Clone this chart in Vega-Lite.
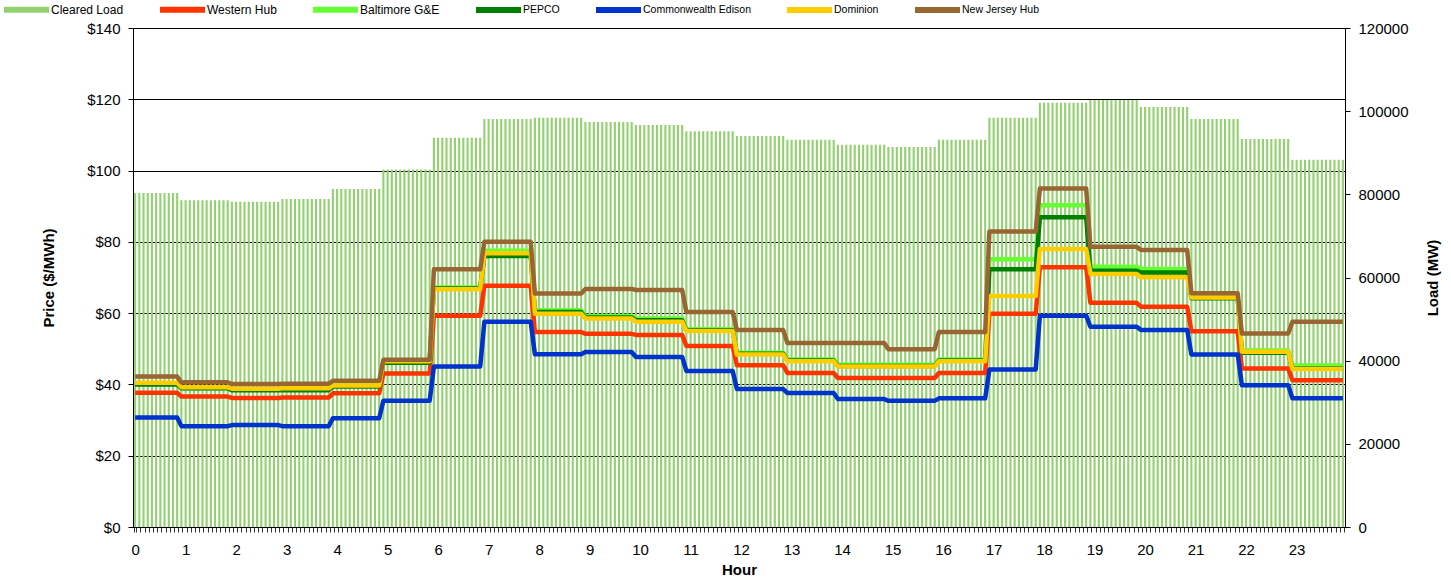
{
"$schema": "https://vega.github.io/schema/vega-lite/v6.json",
"width": 1212, "height": 499,
"autosize": {"type": "none"},
"padding": {"left": 133, "top": 28, "right": 106, "bottom": 50},
"background": "white",
"config": {
"font": "Liberation Sans",
"view": {"stroke": "#000000", "strokeWidth": 1},
"axis": {"labelFont": "Liberation Sans", "labelFontSize": 15, "labelColor": "#000000", "titleFont": "Liberation Sans", "titleFontSize": 15, "titleFontWeight": "bold", "titleColor": "#000000", "domainColor": "#000000", "tickColor": "#000000", "tickSize": 5}
},
"data": {"values": [
{"i":0,"L":80300,"W":37.7,"B":40.3,"P":40,"C":30.7,"D":40.5,"N":42.2},
{"i":1,"L":80300,"W":37.7,"B":40.3,"P":40,"C":30.7,"D":40.5,"N":42.2},
{"i":2,"L":80300,"W":37.7,"B":40.3,"P":40,"C":30.7,"D":40.5,"N":42.2},
{"i":3,"L":80300,"W":37.7,"B":40.3,"P":40,"C":30.7,"D":40.5,"N":42.2},
{"i":4,"L":80300,"W":37.7,"B":40.3,"P":40,"C":30.7,"D":40.5,"N":42.2},
{"i":5,"L":80300,"W":37.7,"B":40.3,"P":40,"C":30.7,"D":40.5,"N":42.2},
{"i":6,"L":80300,"W":37.7,"B":40.3,"P":40,"C":30.7,"D":40.5,"N":42.2},
{"i":7,"L":80300,"W":37.7,"B":40.3,"P":40,"C":30.7,"D":40.5,"N":42.2},
{"i":8,"L":80300,"W":37.7,"B":40.3,"P":40,"C":30.7,"D":40.5,"N":42.2},
{"i":9,"L":80300,"W":37.7,"B":40.3,"P":40,"C":30.7,"D":40.5,"N":42.2},
{"i":10,"L":80300,"W":37.7,"B":40.3,"P":40,"C":30.7,"D":40.5,"N":42.2},
{"i":11,"L":78600,"W":36.6,"B":39,"P":38.9,"C":28.3,"D":39.2,"N":40.6},
{"i":12,"L":78600,"W":36.6,"B":39,"P":38.9,"C":28.3,"D":39.2,"N":40.6},
{"i":13,"L":78600,"W":36.6,"B":39,"P":38.9,"C":28.3,"D":39.2,"N":40.6},
{"i":14,"L":78600,"W":36.6,"B":39,"P":38.9,"C":28.3,"D":39.2,"N":40.6},
{"i":15,"L":78600,"W":36.6,"B":39,"P":38.9,"C":28.3,"D":39.2,"N":40.6},
{"i":16,"L":78600,"W":36.6,"B":39,"P":38.9,"C":28.3,"D":39.2,"N":40.6},
{"i":17,"L":78600,"W":36.6,"B":39,"P":38.9,"C":28.3,"D":39.2,"N":40.6},
{"i":18,"L":78600,"W":36.6,"B":39,"P":38.9,"C":28.3,"D":39.2,"N":40.6},
{"i":19,"L":78600,"W":36.6,"B":39,"P":38.9,"C":28.3,"D":39.2,"N":40.6},
{"i":20,"L":78600,"W":36.6,"B":39,"P":38.9,"C":28.3,"D":39.2,"N":40.6},
{"i":21,"L":78600,"W":36.6,"B":39,"P":38.9,"C":28.3,"D":39.2,"N":40.6},
{"i":22,"L":78600,"W":36.6,"B":39,"P":38.9,"C":28.3,"D":39.2,"N":40.6},
{"i":23,"L":78200,"W":36.2,"B":38.6,"P":38.4,"C":28.6,"D":38.8,"N":40.1},
{"i":24,"L":78200,"W":36.2,"B":38.6,"P":38.4,"C":28.6,"D":38.8,"N":40.1},
{"i":25,"L":78200,"W":36.2,"B":38.6,"P":38.4,"C":28.6,"D":38.8,"N":40.1},
{"i":26,"L":78200,"W":36.2,"B":38.6,"P":38.4,"C":28.6,"D":38.8,"N":40.1},
{"i":27,"L":78200,"W":36.2,"B":38.6,"P":38.4,"C":28.6,"D":38.8,"N":40.1},
{"i":28,"L":78200,"W":36.2,"B":38.6,"P":38.4,"C":28.6,"D":38.8,"N":40.1},
{"i":29,"L":78200,"W":36.2,"B":38.6,"P":38.4,"C":28.6,"D":38.8,"N":40.1},
{"i":30,"L":78200,"W":36.2,"B":38.6,"P":38.4,"C":28.6,"D":38.8,"N":40.1},
{"i":31,"L":78200,"W":36.2,"B":38.6,"P":38.4,"C":28.6,"D":38.8,"N":40.1},
{"i":32,"L":78200,"W":36.2,"B":38.6,"P":38.4,"C":28.6,"D":38.8,"N":40.1},
{"i":33,"L":78200,"W":36.2,"B":38.6,"P":38.4,"C":28.6,"D":38.8,"N":40.1},
{"i":34,"L":78200,"W":36.2,"B":38.6,"P":38.4,"C":28.6,"D":38.8,"N":40.1},
{"i":35,"L":78900,"W":36.3,"B":38.7,"P":38.4,"C":28.3,"D":38.9,"N":40.2},
{"i":36,"L":78900,"W":36.3,"B":38.7,"P":38.4,"C":28.3,"D":38.9,"N":40.2},
{"i":37,"L":78900,"W":36.3,"B":38.7,"P":38.4,"C":28.3,"D":38.9,"N":40.2},
{"i":38,"L":78900,"W":36.3,"B":38.7,"P":38.4,"C":28.3,"D":38.9,"N":40.2},
{"i":39,"L":78900,"W":36.3,"B":38.7,"P":38.4,"C":28.3,"D":38.9,"N":40.2},
{"i":40,"L":78900,"W":36.3,"B":38.7,"P":38.4,"C":28.3,"D":38.9,"N":40.2},
{"i":41,"L":78900,"W":36.3,"B":38.7,"P":38.4,"C":28.3,"D":38.9,"N":40.2},
{"i":42,"L":78900,"W":36.3,"B":38.7,"P":38.4,"C":28.3,"D":38.9,"N":40.2},
{"i":43,"L":78900,"W":36.3,"B":38.7,"P":38.4,"C":28.3,"D":38.9,"N":40.2},
{"i":44,"L":78900,"W":36.3,"B":38.7,"P":38.4,"C":28.3,"D":38.9,"N":40.2},
{"i":45,"L":78900,"W":36.3,"B":38.7,"P":38.4,"C":28.3,"D":38.9,"N":40.2},
{"i":46,"L":78900,"W":36.3,"B":38.7,"P":38.4,"C":28.3,"D":38.9,"N":40.2},
{"i":47,"L":81300,"W":37.5,"B":39.8,"P":39.4,"C":30.5,"D":39.7,"N":41},
{"i":48,"L":81300,"W":37.5,"B":39.8,"P":39.4,"C":30.5,"D":39.7,"N":41},
{"i":49,"L":81300,"W":37.5,"B":39.8,"P":39.4,"C":30.5,"D":39.7,"N":41},
{"i":50,"L":81300,"W":37.5,"B":39.8,"P":39.4,"C":30.5,"D":39.7,"N":41},
{"i":51,"L":81300,"W":37.5,"B":39.8,"P":39.4,"C":30.5,"D":39.7,"N":41},
{"i":52,"L":81300,"W":37.5,"B":39.8,"P":39.4,"C":30.5,"D":39.7,"N":41},
{"i":53,"L":81300,"W":37.5,"B":39.8,"P":39.4,"C":30.5,"D":39.7,"N":41},
{"i":54,"L":81300,"W":37.5,"B":39.8,"P":39.4,"C":30.5,"D":39.7,"N":41},
{"i":55,"L":81300,"W":37.5,"B":39.8,"P":39.4,"C":30.5,"D":39.7,"N":41},
{"i":56,"L":81300,"W":37.5,"B":39.8,"P":39.4,"C":30.5,"D":39.7,"N":41},
{"i":57,"L":81300,"W":37.5,"B":39.8,"P":39.4,"C":30.5,"D":39.7,"N":41},
{"i":58,"L":81300,"W":37.5,"B":39.8,"P":39.4,"C":30.5,"D":39.7,"N":41},
{"i":59,"L":86000,"W":43.1,"B":46.4,"P":46.1,"C":35.4,"D":46.5,"N":46.9},
{"i":60,"L":86000,"W":43.1,"B":46.4,"P":46.1,"C":35.4,"D":46.5,"N":46.9},
{"i":61,"L":86000,"W":43.1,"B":46.4,"P":46.1,"C":35.4,"D":46.5,"N":46.9},
{"i":62,"L":86000,"W":43.1,"B":46.4,"P":46.1,"C":35.4,"D":46.5,"N":46.9},
{"i":63,"L":86000,"W":43.1,"B":46.4,"P":46.1,"C":35.4,"D":46.5,"N":46.9},
{"i":64,"L":86000,"W":43.1,"B":46.4,"P":46.1,"C":35.4,"D":46.5,"N":46.9},
{"i":65,"L":86000,"W":43.1,"B":46.4,"P":46.1,"C":35.4,"D":46.5,"N":46.9},
{"i":66,"L":86000,"W":43.1,"B":46.4,"P":46.1,"C":35.4,"D":46.5,"N":46.9},
{"i":67,"L":86000,"W":43.1,"B":46.4,"P":46.1,"C":35.4,"D":46.5,"N":46.9},
{"i":68,"L":86000,"W":43.1,"B":46.4,"P":46.1,"C":35.4,"D":46.5,"N":46.9},
{"i":69,"L":86000,"W":43.1,"B":46.4,"P":46.1,"C":35.4,"D":46.5,"N":46.9},
{"i":70,"L":86000,"W":43.1,"B":46.4,"P":46.1,"C":35.4,"D":46.5,"N":46.9},
{"i":71,"L":93600,"W":59.3,"B":67.2,"P":66.9,"C":45,"D":66.7,"N":72.3},
{"i":72,"L":93600,"W":59.3,"B":67.2,"P":66.9,"C":45,"D":66.7,"N":72.3},
{"i":73,"L":93600,"W":59.3,"B":67.2,"P":66.9,"C":45,"D":66.7,"N":72.3},
{"i":74,"L":93600,"W":59.3,"B":67.2,"P":66.9,"C":45,"D":66.7,"N":72.3},
{"i":75,"L":93600,"W":59.3,"B":67.2,"P":66.9,"C":45,"D":66.7,"N":72.3},
{"i":76,"L":93600,"W":59.3,"B":67.2,"P":66.9,"C":45,"D":66.7,"N":72.3},
{"i":77,"L":93600,"W":59.3,"B":67.2,"P":66.9,"C":45,"D":66.7,"N":72.3},
{"i":78,"L":93600,"W":59.3,"B":67.2,"P":66.9,"C":45,"D":66.7,"N":72.3},
{"i":79,"L":93600,"W":59.3,"B":67.2,"P":66.9,"C":45,"D":66.7,"N":72.3},
{"i":80,"L":93600,"W":59.3,"B":67.2,"P":66.9,"C":45,"D":66.7,"N":72.3},
{"i":81,"L":93600,"W":59.3,"B":67.2,"P":66.9,"C":45,"D":66.7,"N":72.3},
{"i":82,"L":93600,"W":59.3,"B":67.2,"P":66.9,"C":45,"D":66.7,"N":72.3},
{"i":83,"L":98100,"W":67.7,"B":77.5,"P":76,"C":57.6,"D":76.8,"N":80},
{"i":84,"L":98100,"W":67.7,"B":77.5,"P":76,"C":57.6,"D":76.8,"N":80},
{"i":85,"L":98100,"W":67.7,"B":77.5,"P":76,"C":57.6,"D":76.8,"N":80},
{"i":86,"L":98100,"W":67.7,"B":77.5,"P":76,"C":57.6,"D":76.8,"N":80},
{"i":87,"L":98100,"W":67.7,"B":77.5,"P":76,"C":57.6,"D":76.8,"N":80},
{"i":88,"L":98100,"W":67.7,"B":77.5,"P":76,"C":57.6,"D":76.8,"N":80},
{"i":89,"L":98100,"W":67.7,"B":77.5,"P":76,"C":57.6,"D":76.8,"N":80},
{"i":90,"L":98100,"W":67.7,"B":77.5,"P":76,"C":57.6,"D":76.8,"N":80},
{"i":91,"L":98100,"W":67.7,"B":77.5,"P":76,"C":57.6,"D":76.8,"N":80},
{"i":92,"L":98100,"W":67.7,"B":77.5,"P":76,"C":57.6,"D":76.8,"N":80},
{"i":93,"L":98100,"W":67.7,"B":77.5,"P":76,"C":57.6,"D":76.8,"N":80},
{"i":94,"L":98100,"W":67.7,"B":77.5,"P":76,"C":57.6,"D":76.8,"N":80},
{"i":95,"L":98400,"W":54.7,"B":60.8,"P":60.3,"C":48.5,"D":59.8,"N":65.5},
{"i":96,"L":98400,"W":54.7,"B":60.8,"P":60.3,"C":48.5,"D":59.8,"N":65.5},
{"i":97,"L":98400,"W":54.7,"B":60.8,"P":60.3,"C":48.5,"D":59.8,"N":65.5},
{"i":98,"L":98400,"W":54.7,"B":60.8,"P":60.3,"C":48.5,"D":59.8,"N":65.5},
{"i":99,"L":98400,"W":54.7,"B":60.8,"P":60.3,"C":48.5,"D":59.8,"N":65.5},
{"i":100,"L":98400,"W":54.7,"B":60.8,"P":60.3,"C":48.5,"D":59.8,"N":65.5},
{"i":101,"L":98400,"W":54.7,"B":60.8,"P":60.3,"C":48.5,"D":59.8,"N":65.5},
{"i":102,"L":98400,"W":54.7,"B":60.8,"P":60.3,"C":48.5,"D":59.8,"N":65.5},
{"i":103,"L":98400,"W":54.7,"B":60.8,"P":60.3,"C":48.5,"D":59.8,"N":65.5},
{"i":104,"L":98400,"W":54.7,"B":60.8,"P":60.3,"C":48.5,"D":59.8,"N":65.5},
{"i":105,"L":98400,"W":54.7,"B":60.8,"P":60.3,"C":48.5,"D":59.8,"N":65.5},
{"i":106,"L":98400,"W":54.7,"B":60.8,"P":60.3,"C":48.5,"D":59.8,"N":65.5},
{"i":107,"L":97400,"W":54.2,"B":59.2,"P":58.8,"C":49.1,"D":58.5,"N":66.8},
{"i":108,"L":97400,"W":54.2,"B":59.2,"P":58.8,"C":49.1,"D":58.5,"N":66.8},
{"i":109,"L":97400,"W":54.2,"B":59.2,"P":58.8,"C":49.1,"D":58.5,"N":66.8},
{"i":110,"L":97400,"W":54.2,"B":59.2,"P":58.8,"C":49.1,"D":58.5,"N":66.8},
{"i":111,"L":97400,"W":54.2,"B":59.2,"P":58.8,"C":49.1,"D":58.5,"N":66.8},
{"i":112,"L":97400,"W":54.2,"B":59.2,"P":58.8,"C":49.1,"D":58.5,"N":66.8},
{"i":113,"L":97400,"W":54.2,"B":59.2,"P":58.8,"C":49.1,"D":58.5,"N":66.8},
{"i":114,"L":97400,"W":54.2,"B":59.2,"P":58.8,"C":49.1,"D":58.5,"N":66.8},
{"i":115,"L":97400,"W":54.2,"B":59.2,"P":58.8,"C":49.1,"D":58.5,"N":66.8},
{"i":116,"L":97400,"W":54.2,"B":59.2,"P":58.8,"C":49.1,"D":58.5,"N":66.8},
{"i":117,"L":97400,"W":54.2,"B":59.2,"P":58.8,"C":49.1,"D":58.5,"N":66.8},
{"i":118,"L":97400,"W":54.2,"B":59.2,"P":58.8,"C":49.1,"D":58.5,"N":66.8},
{"i":119,"L":96700,"W":53.9,"B":58.5,"P":58,"C":47.7,"D":57.6,"N":66.5},
{"i":120,"L":96700,"W":53.9,"B":58.5,"P":58,"C":47.7,"D":57.6,"N":66.5},
{"i":121,"L":96700,"W":53.9,"B":58.5,"P":58,"C":47.7,"D":57.6,"N":66.5},
{"i":122,"L":96700,"W":53.9,"B":58.5,"P":58,"C":47.7,"D":57.6,"N":66.5},
{"i":123,"L":96700,"W":53.9,"B":58.5,"P":58,"C":47.7,"D":57.6,"N":66.5},
{"i":124,"L":96700,"W":53.9,"B":58.5,"P":58,"C":47.7,"D":57.6,"N":66.5},
{"i":125,"L":96700,"W":53.9,"B":58.5,"P":58,"C":47.7,"D":57.6,"N":66.5},
{"i":126,"L":96700,"W":53.9,"B":58.5,"P":58,"C":47.7,"D":57.6,"N":66.5},
{"i":127,"L":96700,"W":53.9,"B":58.5,"P":58,"C":47.7,"D":57.6,"N":66.5},
{"i":128,"L":96700,"W":53.9,"B":58.5,"P":58,"C":47.7,"D":57.6,"N":66.5},
{"i":129,"L":96700,"W":53.9,"B":58.5,"P":58,"C":47.7,"D":57.6,"N":66.5},
{"i":130,"L":96700,"W":53.9,"B":58.5,"P":58,"C":47.7,"D":57.6,"N":66.5},
{"i":131,"L":95200,"W":50.8,"B":55.5,"P":55.2,"C":43.8,"D":55,"N":60.3},
{"i":132,"L":95200,"W":50.8,"B":55.5,"P":55.2,"C":43.8,"D":55,"N":60.3},
{"i":133,"L":95200,"W":50.8,"B":55.5,"P":55.2,"C":43.8,"D":55,"N":60.3},
{"i":134,"L":95200,"W":50.8,"B":55.5,"P":55.2,"C":43.8,"D":55,"N":60.3},
{"i":135,"L":95200,"W":50.8,"B":55.5,"P":55.2,"C":43.8,"D":55,"N":60.3},
{"i":136,"L":95200,"W":50.8,"B":55.5,"P":55.2,"C":43.8,"D":55,"N":60.3},
{"i":137,"L":95200,"W":50.8,"B":55.5,"P":55.2,"C":43.8,"D":55,"N":60.3},
{"i":138,"L":95200,"W":50.8,"B":55.5,"P":55.2,"C":43.8,"D":55,"N":60.3},
{"i":139,"L":95200,"W":50.8,"B":55.5,"P":55.2,"C":43.8,"D":55,"N":60.3},
{"i":140,"L":95200,"W":50.8,"B":55.5,"P":55.2,"C":43.8,"D":55,"N":60.3},
{"i":141,"L":95200,"W":50.8,"B":55.5,"P":55.2,"C":43.8,"D":55,"N":60.3},
{"i":142,"L":95200,"W":50.8,"B":55.5,"P":55.2,"C":43.8,"D":55,"N":60.3},
{"i":143,"L":94000,"W":45.4,"B":48.9,"P":48.6,"C":38.7,"D":48.4,"N":55.3},
{"i":144,"L":94000,"W":45.4,"B":48.9,"P":48.6,"C":38.7,"D":48.4,"N":55.3},
{"i":145,"L":94000,"W":45.4,"B":48.9,"P":48.6,"C":38.7,"D":48.4,"N":55.3},
{"i":146,"L":94000,"W":45.4,"B":48.9,"P":48.6,"C":38.7,"D":48.4,"N":55.3},
{"i":147,"L":94000,"W":45.4,"B":48.9,"P":48.6,"C":38.7,"D":48.4,"N":55.3},
{"i":148,"L":94000,"W":45.4,"B":48.9,"P":48.6,"C":38.7,"D":48.4,"N":55.3},
{"i":149,"L":94000,"W":45.4,"B":48.9,"P":48.6,"C":38.7,"D":48.4,"N":55.3},
{"i":150,"L":94000,"W":45.4,"B":48.9,"P":48.6,"C":38.7,"D":48.4,"N":55.3},
{"i":151,"L":94000,"W":45.4,"B":48.9,"P":48.6,"C":38.7,"D":48.4,"N":55.3},
{"i":152,"L":94000,"W":45.4,"B":48.9,"P":48.6,"C":38.7,"D":48.4,"N":55.3},
{"i":153,"L":94000,"W":45.4,"B":48.9,"P":48.6,"C":38.7,"D":48.4,"N":55.3},
{"i":154,"L":94000,"W":45.4,"B":48.9,"P":48.6,"C":38.7,"D":48.4,"N":55.3},
{"i":155,"L":93100,"W":43.2,"B":47,"P":46.7,"C":37.6,"D":46.5,"N":51.6},
{"i":156,"L":93100,"W":43.2,"B":47,"P":46.7,"C":37.6,"D":46.5,"N":51.6},
{"i":157,"L":93100,"W":43.2,"B":47,"P":46.7,"C":37.6,"D":46.5,"N":51.6},
{"i":158,"L":93100,"W":43.2,"B":47,"P":46.7,"C":37.6,"D":46.5,"N":51.6},
{"i":159,"L":93100,"W":43.2,"B":47,"P":46.7,"C":37.6,"D":46.5,"N":51.6},
{"i":160,"L":93100,"W":43.2,"B":47,"P":46.7,"C":37.6,"D":46.5,"N":51.6},
{"i":161,"L":93100,"W":43.2,"B":47,"P":46.7,"C":37.6,"D":46.5,"N":51.6},
{"i":162,"L":93100,"W":43.2,"B":47,"P":46.7,"C":37.6,"D":46.5,"N":51.6},
{"i":163,"L":93100,"W":43.2,"B":47,"P":46.7,"C":37.6,"D":46.5,"N":51.6},
{"i":164,"L":93100,"W":43.2,"B":47,"P":46.7,"C":37.6,"D":46.5,"N":51.6},
{"i":165,"L":93100,"W":43.2,"B":47,"P":46.7,"C":37.6,"D":46.5,"N":51.6},
{"i":166,"L":93100,"W":43.2,"B":47,"P":46.7,"C":37.6,"D":46.5,"N":51.6},
{"i":167,"L":91900,"W":41.8,"B":45.5,"P":45.2,"C":35.9,"D":45,"N":51.6},
{"i":168,"L":91900,"W":41.8,"B":45.5,"P":45.2,"C":35.9,"D":45,"N":51.6},
{"i":169,"L":91900,"W":41.8,"B":45.5,"P":45.2,"C":35.9,"D":45,"N":51.6},
{"i":170,"L":91900,"W":41.8,"B":45.5,"P":45.2,"C":35.9,"D":45,"N":51.6},
{"i":171,"L":91900,"W":41.8,"B":45.5,"P":45.2,"C":35.9,"D":45,"N":51.6},
{"i":172,"L":91900,"W":41.8,"B":45.5,"P":45.2,"C":35.9,"D":45,"N":51.6},
{"i":173,"L":91900,"W":41.8,"B":45.5,"P":45.2,"C":35.9,"D":45,"N":51.6},
{"i":174,"L":91900,"W":41.8,"B":45.5,"P":45.2,"C":35.9,"D":45,"N":51.6},
{"i":175,"L":91900,"W":41.8,"B":45.5,"P":45.2,"C":35.9,"D":45,"N":51.6},
{"i":176,"L":91900,"W":41.8,"B":45.5,"P":45.2,"C":35.9,"D":45,"N":51.6},
{"i":177,"L":91900,"W":41.8,"B":45.5,"P":45.2,"C":35.9,"D":45,"N":51.6},
{"i":178,"L":91900,"W":41.8,"B":45.5,"P":45.2,"C":35.9,"D":45,"N":51.6},
{"i":179,"L":91400,"W":41.8,"B":45.5,"P":45.2,"C":35.4,"D":45,"N":49.9},
{"i":180,"L":91400,"W":41.8,"B":45.5,"P":45.2,"C":35.4,"D":45,"N":49.9},
{"i":181,"L":91400,"W":41.8,"B":45.5,"P":45.2,"C":35.4,"D":45,"N":49.9},
{"i":182,"L":91400,"W":41.8,"B":45.5,"P":45.2,"C":35.4,"D":45,"N":49.9},
{"i":183,"L":91400,"W":41.8,"B":45.5,"P":45.2,"C":35.4,"D":45,"N":49.9},
{"i":184,"L":91400,"W":41.8,"B":45.5,"P":45.2,"C":35.4,"D":45,"N":49.9},
{"i":185,"L":91400,"W":41.8,"B":45.5,"P":45.2,"C":35.4,"D":45,"N":49.9},
{"i":186,"L":91400,"W":41.8,"B":45.5,"P":45.2,"C":35.4,"D":45,"N":49.9},
{"i":187,"L":91400,"W":41.8,"B":45.5,"P":45.2,"C":35.4,"D":45,"N":49.9},
{"i":188,"L":91400,"W":41.8,"B":45.5,"P":45.2,"C":35.4,"D":45,"N":49.9},
{"i":189,"L":91400,"W":41.8,"B":45.5,"P":45.2,"C":35.4,"D":45,"N":49.9},
{"i":190,"L":91400,"W":41.8,"B":45.5,"P":45.2,"C":35.4,"D":45,"N":49.9},
{"i":191,"L":93100,"W":43.2,"B":47,"P":46.7,"C":36.1,"D":46.5,"N":54.7},
{"i":192,"L":93100,"W":43.2,"B":47,"P":46.7,"C":36.1,"D":46.5,"N":54.7},
{"i":193,"L":93100,"W":43.2,"B":47,"P":46.7,"C":36.1,"D":46.5,"N":54.7},
{"i":194,"L":93100,"W":43.2,"B":47,"P":46.7,"C":36.1,"D":46.5,"N":54.7},
{"i":195,"L":93100,"W":43.2,"B":47,"P":46.7,"C":36.1,"D":46.5,"N":54.7},
{"i":196,"L":93100,"W":43.2,"B":47,"P":46.7,"C":36.1,"D":46.5,"N":54.7},
{"i":197,"L":93100,"W":43.2,"B":47,"P":46.7,"C":36.1,"D":46.5,"N":54.7},
{"i":198,"L":93100,"W":43.2,"B":47,"P":46.7,"C":36.1,"D":46.5,"N":54.7},
{"i":199,"L":93100,"W":43.2,"B":47,"P":46.7,"C":36.1,"D":46.5,"N":54.7},
{"i":200,"L":93100,"W":43.2,"B":47,"P":46.7,"C":36.1,"D":46.5,"N":54.7},
{"i":201,"L":93100,"W":43.2,"B":47,"P":46.7,"C":36.1,"D":46.5,"N":54.7},
{"i":202,"L":93100,"W":43.2,"B":47,"P":46.7,"C":36.1,"D":46.5,"N":54.7},
{"i":203,"L":98400,"W":59.8,"B":75.1,"P":72.3,"C":44.2,"D":64.8,"N":82.9},
{"i":204,"L":98400,"W":59.8,"B":75.1,"P":72.3,"C":44.2,"D":64.8,"N":82.9},
{"i":205,"L":98400,"W":59.8,"B":75.1,"P":72.3,"C":44.2,"D":64.8,"N":82.9},
{"i":206,"L":98400,"W":59.8,"B":75.1,"P":72.3,"C":44.2,"D":64.8,"N":82.9},
{"i":207,"L":98400,"W":59.8,"B":75.1,"P":72.3,"C":44.2,"D":64.8,"N":82.9},
{"i":208,"L":98400,"W":59.8,"B":75.1,"P":72.3,"C":44.2,"D":64.8,"N":82.9},
{"i":209,"L":98400,"W":59.8,"B":75.1,"P":72.3,"C":44.2,"D":64.8,"N":82.9},
{"i":210,"L":98400,"W":59.8,"B":75.1,"P":72.3,"C":44.2,"D":64.8,"N":82.9},
{"i":211,"L":98400,"W":59.8,"B":75.1,"P":72.3,"C":44.2,"D":64.8,"N":82.9},
{"i":212,"L":98400,"W":59.8,"B":75.1,"P":72.3,"C":44.2,"D":64.8,"N":82.9},
{"i":213,"L":98400,"W":59.8,"B":75.1,"P":72.3,"C":44.2,"D":64.8,"N":82.9},
{"i":214,"L":98400,"W":59.8,"B":75.1,"P":72.3,"C":44.2,"D":64.8,"N":82.9},
{"i":215,"L":102000,"W":72.9,"B":90.3,"P":86.9,"C":59.3,"D":78,"N":95},
{"i":216,"L":102000,"W":72.9,"B":90.3,"P":86.9,"C":59.3,"D":78,"N":95},
{"i":217,"L":102000,"W":72.9,"B":90.3,"P":86.9,"C":59.3,"D":78,"N":95},
{"i":218,"L":102000,"W":72.9,"B":90.3,"P":86.9,"C":59.3,"D":78,"N":95},
{"i":219,"L":102000,"W":72.9,"B":90.3,"P":86.9,"C":59.3,"D":78,"N":95},
{"i":220,"L":102000,"W":72.9,"B":90.3,"P":86.9,"C":59.3,"D":78,"N":95},
{"i":221,"L":102000,"W":72.9,"B":90.3,"P":86.9,"C":59.3,"D":78,"N":95},
{"i":222,"L":102000,"W":72.9,"B":90.3,"P":86.9,"C":59.3,"D":78,"N":95},
{"i":223,"L":102000,"W":72.9,"B":90.3,"P":86.9,"C":59.3,"D":78,"N":95},
{"i":224,"L":102000,"W":72.9,"B":90.3,"P":86.9,"C":59.3,"D":78,"N":95},
{"i":225,"L":102000,"W":72.9,"B":90.3,"P":86.9,"C":59.3,"D":78,"N":95},
{"i":226,"L":102000,"W":72.9,"B":90.3,"P":86.9,"C":59.3,"D":78,"N":95},
{"i":227,"L":102700,"W":62.9,"B":73,"P":71.9,"C":56.2,"D":71,"N":78.6},
{"i":228,"L":102700,"W":62.9,"B":73,"P":71.9,"C":56.2,"D":71,"N":78.6},
{"i":229,"L":102700,"W":62.9,"B":73,"P":71.9,"C":56.2,"D":71,"N":78.6},
{"i":230,"L":102700,"W":62.9,"B":73,"P":71.9,"C":56.2,"D":71,"N":78.6},
{"i":231,"L":102700,"W":62.9,"B":73,"P":71.9,"C":56.2,"D":71,"N":78.6},
{"i":232,"L":102700,"W":62.9,"B":73,"P":71.9,"C":56.2,"D":71,"N":78.6},
{"i":233,"L":102700,"W":62.9,"B":73,"P":71.9,"C":56.2,"D":71,"N":78.6},
{"i":234,"L":102700,"W":62.9,"B":73,"P":71.9,"C":56.2,"D":71,"N":78.6},
{"i":235,"L":102700,"W":62.9,"B":73,"P":71.9,"C":56.2,"D":71,"N":78.6},
{"i":236,"L":102700,"W":62.9,"B":73,"P":71.9,"C":56.2,"D":71,"N":78.6},
{"i":237,"L":102700,"W":62.9,"B":73,"P":71.9,"C":56.2,"D":71,"N":78.6},
{"i":238,"L":102700,"W":62.9,"B":73,"P":71.9,"C":56.2,"D":71,"N":78.6},
{"i":239,"L":101000,"W":61.8,"B":72.4,"P":71.4,"C":55.3,"D":70.1,"N":77.7},
{"i":240,"L":101000,"W":61.8,"B":72.4,"P":71.4,"C":55.3,"D":70.1,"N":77.7},
{"i":241,"L":101000,"W":61.8,"B":72.4,"P":71.4,"C":55.3,"D":70.1,"N":77.7},
{"i":242,"L":101000,"W":61.8,"B":72.4,"P":71.4,"C":55.3,"D":70.1,"N":77.7},
{"i":243,"L":101000,"W":61.8,"B":72.4,"P":71.4,"C":55.3,"D":70.1,"N":77.7},
{"i":244,"L":101000,"W":61.8,"B":72.4,"P":71.4,"C":55.3,"D":70.1,"N":77.7},
{"i":245,"L":101000,"W":61.8,"B":72.4,"P":71.4,"C":55.3,"D":70.1,"N":77.7},
{"i":246,"L":101000,"W":61.8,"B":72.4,"P":71.4,"C":55.3,"D":70.1,"N":77.7},
{"i":247,"L":101000,"W":61.8,"B":72.4,"P":71.4,"C":55.3,"D":70.1,"N":77.7},
{"i":248,"L":101000,"W":61.8,"B":72.4,"P":71.4,"C":55.3,"D":70.1,"N":77.7},
{"i":249,"L":101000,"W":61.8,"B":72.4,"P":71.4,"C":55.3,"D":70.1,"N":77.7},
{"i":250,"L":101000,"W":61.8,"B":72.4,"P":71.4,"C":55.3,"D":70.1,"N":77.7},
{"i":251,"L":98100,"W":54.9,"B":65,"P":64.2,"C":48.4,"D":64.4,"N":65.6},
{"i":252,"L":98100,"W":54.9,"B":65,"P":64.2,"C":48.4,"D":64.4,"N":65.6},
{"i":253,"L":98100,"W":54.9,"B":65,"P":64.2,"C":48.4,"D":64.4,"N":65.6},
{"i":254,"L":98100,"W":54.9,"B":65,"P":64.2,"C":48.4,"D":64.4,"N":65.6},
{"i":255,"L":98100,"W":54.9,"B":65,"P":64.2,"C":48.4,"D":64.4,"N":65.6},
{"i":256,"L":98100,"W":54.9,"B":65,"P":64.2,"C":48.4,"D":64.4,"N":65.6},
{"i":257,"L":98100,"W":54.9,"B":65,"P":64.2,"C":48.4,"D":64.4,"N":65.6},
{"i":258,"L":98100,"W":54.9,"B":65,"P":64.2,"C":48.4,"D":64.4,"N":65.6},
{"i":259,"L":98100,"W":54.9,"B":65,"P":64.2,"C":48.4,"D":64.4,"N":65.6},
{"i":260,"L":98100,"W":54.9,"B":65,"P":64.2,"C":48.4,"D":64.4,"N":65.6},
{"i":261,"L":98100,"W":54.9,"B":65,"P":64.2,"C":48.4,"D":64.4,"N":65.6},
{"i":262,"L":98100,"W":54.9,"B":65,"P":64.2,"C":48.4,"D":64.4,"N":65.6},
{"i":263,"L":93300,"W":44.5,"B":49.5,"P":48.9,"C":39.8,"D":49.2,"N":54.3},
{"i":264,"L":93300,"W":44.5,"B":49.5,"P":48.9,"C":39.8,"D":49.2,"N":54.3},
{"i":265,"L":93300,"W":44.5,"B":49.5,"P":48.9,"C":39.8,"D":49.2,"N":54.3},
{"i":266,"L":93300,"W":44.5,"B":49.5,"P":48.9,"C":39.8,"D":49.2,"N":54.3},
{"i":267,"L":93300,"W":44.5,"B":49.5,"P":48.9,"C":39.8,"D":49.2,"N":54.3},
{"i":268,"L":93300,"W":44.5,"B":49.5,"P":48.9,"C":39.8,"D":49.2,"N":54.3},
{"i":269,"L":93300,"W":44.5,"B":49.5,"P":48.9,"C":39.8,"D":49.2,"N":54.3},
{"i":270,"L":93300,"W":44.5,"B":49.5,"P":48.9,"C":39.8,"D":49.2,"N":54.3},
{"i":271,"L":93300,"W":44.5,"B":49.5,"P":48.9,"C":39.8,"D":49.2,"N":54.3},
{"i":272,"L":93300,"W":44.5,"B":49.5,"P":48.9,"C":39.8,"D":49.2,"N":54.3},
{"i":273,"L":93300,"W":44.5,"B":49.5,"P":48.9,"C":39.8,"D":49.2,"N":54.3},
{"i":274,"L":93300,"W":44.5,"B":49.5,"P":48.9,"C":39.8,"D":49.2,"N":54.3},
{"i":275,"L":88300,"W":41.2,"B":45.3,"P":44.5,"C":36.1,"D":44.3,"N":57.6},
{"i":276,"L":88300,"W":41.2,"B":45.3,"P":44.5,"C":36.1,"D":44.3,"N":57.6},
{"i":277,"L":88300,"W":41.2,"B":45.3,"P":44.5,"C":36.1,"D":44.3,"N":57.6},
{"i":278,"L":88300,"W":41.2,"B":45.3,"P":44.5,"C":36.1,"D":44.3,"N":57.6},
{"i":279,"L":88300,"W":41.2,"B":45.3,"P":44.5,"C":36.1,"D":44.3,"N":57.6},
{"i":280,"L":88300,"W":41.2,"B":45.3,"P":44.5,"C":36.1,"D":44.3,"N":57.6},
{"i":281,"L":88300,"W":41.2,"B":45.3,"P":44.5,"C":36.1,"D":44.3,"N":57.6},
{"i":282,"L":88300,"W":41.2,"B":45.3,"P":44.5,"C":36.1,"D":44.3,"N":57.6},
{"i":283,"L":88300,"W":41.2,"B":45.3,"P":44.5,"C":36.1,"D":44.3,"N":57.6},
{"i":284,"L":88300,"W":41.2,"B":45.3,"P":44.5,"C":36.1,"D":44.3,"N":57.6},
{"i":285,"L":88300,"W":41.2,"B":45.3,"P":44.5,"C":36.1,"D":44.3,"N":57.6},
{"i":286,"L":88300,"W":41.2,"B":45.3,"P":44.5,"C":36.1,"D":44.3,"N":57.6},
{"i":287,"L":88300,"W":41.2,"B":45.3,"P":44.5,"C":36.1,"D":44.3,"N":57.6}
]},
"encoding": {
"x": {"field": "i", "type": "ordinal", "scale": {"paddingInner": 0.5, "paddingOuter": 0.25},
"axis": {"title": "Hour", "labelExpr": "datum.value % 12 == 0 ? '' + (datum.value / 12) : ''", "labelAngle": 0, "labelOverlap": false, "tickBand": "extent", "labelPadding": 10, "titleY": 35, "titleBaseline": "top", "zindex": 1, "grid": false, "tickSize": 5, "tickColor": "#333333", "domainColor": "#000000"}}
},
"layer": [
{"mark": {"type": "bar"},
"encoding": {
"y": {"field": "L", "type": "quantitative", "scale": {"domain": [0, 120000], "nice": false},
"axis": {"orient": "right", "title": "Load (MW)", "values": [0, 20000, 40000, 60000, 80000, 100000, 120000], "format": "d", "grid": false, "labelPadding": 8, "titleX": 87, "titleY": 249.5, "titleAngle": 270, "titleBaseline": "middle", "zindex": 1}},
"color": {"datum": "Cleared Load", "type": "nominal",
"scale": {"domain": ["Cleared Load", "Western Hub", "Baltimore G&E", "PEPCO", "Commonwealth Edison", "Dominion", "New Jersey Hub"], "range": ["#92D070", "#FF3300", "#66FF33", "#008000", "#0033CC", "#FFCC00", "#996633"]},
"legend": {"title": null, "orient": "none", "legendX": -129, "legendY": -41, "direction": "horizontal", "columnPadding": 36, "padding": 0, "labelFont": "Liberation Sans", "labelFontSize": 12, "labelColor": "#000000", "labelOffset": 2, "symbolType": "M-1,-0.13H1V0.13H-1Z", "symbolSize": 2025, "symbolStrokeWidth": 0, "symbolOpacity": 1,
"encode": {
"symbols": {"update": {"fill": {"scale": "color", "field": "value"}, "stroke": {"value": "transparent"}, "shape": {"value": "M-1,-0.13H1V0.13H-1Z"}, "size": {"value": 2025}, "opacity": {"value": 1}, "strokeWidth": {"value": 0}}},
"labels": {"update": {"fontSize": {"signal": "indexof(['PEPCO','Commonwealth Edison','Dominion','New Jersey Hub'], datum.value) >= 0 ? 10.5 : 12"}}}
}}
}
}},
{"layer": [
{"mark": {"type": "line", "strokeWidth": 4.5, "strokeJoin": "round"},
"encoding": {"y": {"field": "W", "type": "quantitative", "scale": {"domain": [0, 140], "nice": false},
"axis": {"orient": "left", "title": "Price ($/MWh)", "values": [0, 20, 40, 60, 80, 100, 120, 140], "format": "$.0f", "grid": true, "gridColor": "#000000", "gridOpacity": 1, "gridWidth": 1, "labelPadding": 8, "titleX": -85, "titleY": 249.5, "titleAngle": 270, "titleBaseline": "middle"}},
"color": {"datum": "Western Hub"}}},
{"mark": {"type": "line", "strokeWidth": 4.5, "strokeJoin": "round"},
"encoding": {"y": {"field": "B", "type": "quantitative"}, "color": {"datum": "Baltimore G&E"}}},
{"mark": {"type": "line", "strokeWidth": 4.5, "strokeJoin": "round"},
"encoding": {"y": {"field": "P", "type": "quantitative"}, "color": {"datum": "PEPCO"}}},
{"mark": {"type": "line", "strokeWidth": 4.5, "strokeJoin": "round"},
"encoding": {"y": {"field": "C", "type": "quantitative"}, "color": {"datum": "Commonwealth Edison"}}},
{"mark": {"type": "line", "strokeWidth": 4.5, "strokeJoin": "round"},
"encoding": {"y": {"field": "D", "type": "quantitative"}, "color": {"datum": "Dominion"}}},
{"mark": {"type": "line", "strokeWidth": 4.5, "strokeJoin": "round"},
"encoding": {"y": {"field": "N", "type": "quantitative"}, "color": {"datum": "New Jersey Hub"}}}
]}
],
"resolve": {"scale": {"y": "independent"}, "axis": {"y": "independent"}}
}
